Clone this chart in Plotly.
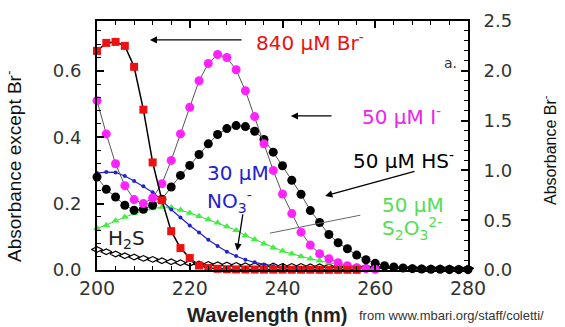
import plotly.graph_objects as go

# ---------------- data ----------------
wl = list(range(200, 282, 2))  # 200..280 nm

wl_br = list(range(200, 258, 2))
br = [2.20, 2.28, 2.29, 2.25, 2.04, 1.61, 1.08, 0.70, 0.39, 0.22, 0.12, 0.045, 0.02, 0.012,
      0.008, 0.006, 0.005, 0.005, 0.004, 0.004, 0.004, 0.003, 0.003, 0.003, 0.002, 0.002,
      0.002, 0.002, 0.002]

wl_i = list(range(200, 262, 2))
iodide = [0.51, 0.41, 0.32, 0.254, 0.212, 0.200, 0.217, 0.26, 0.33, 0.41, 0.49, 0.57, 0.622,
          0.649, 0.640, 0.603, 0.54, 0.462, 0.38, 0.30, 0.229, 0.17, 0.114, 0.075, 0.049,
          0.034, 0.022, 0.013, 0.007, 0.004, 0.002]

hs = [0.28, 0.243, 0.22, 0.195, 0.18, 0.183, 0.195, 0.213, 0.25, 0.285, 0.315, 0.348, 0.38,
      0.408, 0.426, 0.435, 0.432, 0.418, 0.393, 0.355, 0.314, 0.27, 0.228, 0.179, 0.143,
      0.107, 0.082, 0.064, 0.045, 0.031, 0.02, 0.013, 0.009, 0.006, 0.004, 0.003, 0.002,
      0.002, 0.001, 0.001, 0.001]

wl_no3 = list(range(200, 252, 2))
no3 = [0.292, 0.295, 0.294, 0.283, 0.268, 0.252, 0.234, 0.21, 0.182, 0.158, 0.134, 0.113,
       0.091, 0.072, 0.055, 0.042, 0.031, 0.023, 0.016, 0.011, 0.007, 0.005, 0.003, 0.002,
       0.001, 0.001]

wl_s2o3 = list(range(200, 262, 2))
s2o3 = [0.126, 0.135, 0.148, 0.16, 0.17, 0.178, 0.185, 0.19, 0.188, 0.181, 0.172, 0.162,
        0.152, 0.142, 0.131, 0.12, 0.104, 0.092, 0.079, 0.067, 0.057, 0.049, 0.041, 0.034,
        0.028, 0.022, 0.016, 0.011, 0.007, 0.004, 0.002]

h2s = [0.062, 0.055, 0.048, 0.043, 0.039, 0.035, 0.032, 0.028, 0.025, 0.022, 0.02, 0.018,
       0.017, 0.016, 0.015, 0.014, 0.013, 0.013, 0.012, 0.012, 0.011, 0.011, 0.011, 0.01,
       0.01, 0.01, 0.009, 0.009, 0.009, 0.008, 0.008, 0.008, 0.007, 0.007, 0.007, 0.006,
       0.006, 0.006, 0.006, 0.005, 0.005]

x_ticks = [200, 220, 240, 260, 280]

WIDE = "DejaVu Sans, Verdana, sans-serif"
ARIAL = "Liberation Sans, Arial, sans-serif"

W, H = 565, 327
ML, MR, MT, MB = 97, 97, 21, 57

fig = go.Figure()

fig.add_trace(go.Scatter(x=wl, y=h2s, mode="lines+markers", cliponaxis=False,
                         line=dict(color="black", width=1),
                         marker=dict(symbol="diamond-wide", size=8, color="white",
                                     line=dict(color="black", width=1.2))))
fig.add_trace(go.Scatter(x=wl_s2o3, y=s2o3, mode="lines+markers", cliponaxis=False,
                         line=dict(color="#33dd33", width=1),
                         marker=dict(symbol="triangle-up", size=7, color="#44ee44")))
fig.add_trace(go.Scatter(x=wl_no3, y=no3, mode="lines+markers", cliponaxis=False,
                         line=dict(color="#2222cc", width=1.2),
                         marker=dict(symbol="circle", size=4, color="#2222cc")))
fig.add_trace(go.Scatter(x=wl, y=hs, mode="lines+markers", cliponaxis=False,
                         line=dict(color="#555555", width=1),
                         marker=dict(symbol="circle", size=9, color="black")))
fig.add_trace(go.Scatter(x=wl_i, y=iodide, mode="lines+markers", cliponaxis=False,
                         line=dict(color="#555555", width=1),
                         marker=dict(symbol="circle", size=9, color="#ff22ff")))
fig.add_trace(go.Scatter(x=wl_br, y=br, yaxis="y2", mode="lines+markers", cliponaxis=False,
                         line=dict(color="black", width=1.5),
                         marker=dict(symbol="square", size=8, color="#ee1111")))

yfont = dict(family=WIDE, size=18, color="#333333")
xfont = dict(family=WIDE, size=19, color="#333333")

common = dict(ticks="inside", ticklen=7, tickwidth=1.5, tickcolor="black", showline=True,
              linewidth=2, linecolor="black", showgrid=False, zeroline=False, automargin=False)

fig.update_layout(
    width=W, height=H,
    margin=dict(l=ML, r=MR, t=MT, b=MB),
    paper_bgcolor="white", plot_bgcolor="white",
    showlegend=False,
    font=dict(family=WIDE),
    xaxis=dict(range=[200, 280], tickvals=x_ticks, mirror="ticks", tickfont=xfont,
               minor=dict(dtick=4, ticklen=4, ticks="inside", tickcolor="black", tickwidth=1.2),
               **common),
    yaxis=dict(range=[0, 0.75], dtick=0.2, tickformat=".1f", tickfont=yfont,
               ticklabelstandoff=10,
               minor=dict(dtick=0.04, ticklen=4, ticks="inside", tickcolor="black", tickwidth=1.2),
               **common),
    yaxis2=dict(range=[0, 2.5], dtick=0.5, tickformat=".1f", overlaying="y", side="right",
                tickfont=yfont, ticklabelstandoff=10,
                minor=dict(dtick=0.1, ticklen=4, ticks="inside", tickcolor="black", tickwidth=1.2),
                **common),
)

ann = []
def txt(x, y, s, color, size=20, xanchor="left", yanchor="middle", family=WIDE):
    ann.append(dict(x=x, y=y, xref="x", yref="y", text=s, showarrow=False,
                    xanchor=xanchor, yanchor=yanchor, borderpad=0,
                    font=dict(family=family, size=size, color=color)))

def arrow(x0, y0, x1, y1, color="black", head=2, width=1.3):
    ann.append(dict(x=x1, y=y1, ax=x0, ay=y0, xref="x", yref="y", axref="x", ayref="y",
                    text="", showarrow=True, arrowhead=head, arrowsize=1.1,
                    arrowwidth=width, arrowcolor=color))

txt(234.1, 0.687, "840 μM Br<sup>-</sup>", "#ee1111", 20)
arrow(231.5, 0.693, 211.4, 0.693)
txt(277.8, 0.623, "a.", "#333333", 14, xanchor="right")
txt(256.9, 0.464, "50 μM I<sup>-</sup>", "#ee22ee", 20)
arrow(250.9, 0.464, 241.8, 0.464)
txt(255.0, 0.331, "50 μM HS<sup>-</sup>", "black", 20)
arrow(268.8, 0.298, 249.2, 0.223)
txt(223.5, 0.292, "30 μM", "#2222cc", 20)
txt(223.5, 0.205, "NO<sub>3</sub><sup>-</sup>", "#2222cc", 20)
arrow(231.5, 0.172, 230.2, 0.058)
txt(261.3, 0.196, "50 μM", "#55dd55", 20)
txt(261.3, 0.125, "S<sub>2</sub>O<sub>3</sub><sup>2-</sup>", "#55dd55", 20)
arrow(257.1, 0.166, 237.3, 0.111, color="#666666", head=0, width=1)
txt(202.2, 0.093, "H<sub>2</sub>S", "#222222", 20)

pw, ph = W - ML - MR, H - MT - MB
def px2paper(px, py):
    return (px - ML) / pw, (H - MB - py) / ph

def ptxt(px, py, s, size, color="#111111", angle=0, xanchor="center", family=ARIAL):
    x, y = px2paper(px, py)
    ann.append(dict(x=x, y=y, xref="paper", yref="paper", text=s, showarrow=False,
                    textangle=angle, xanchor=xanchor, yanchor="middle", borderpad=0,
                    font=dict(family=family, size=size, color=color)))

ptxt(13, 167, "Absorbance except Br<sup>-</sup>", 19, angle=-90)
ptxt(549, 150, "Absorbance Br<sup>-</sup>", 16, angle=-90)
ptxt(267, 315, "<b>Wavelength (nm)</b>", 20, color="#222222")
ptxt(358, 315, "from www.mbari.org/staff/coletti/", 13, color="#333333", xanchor="left")

fig.update_layout(annotations=ann)

fig.write_html("out.html", config={"displayModeBar": False},
               post_script="document.body.style.margin='0';document.body.style.overflow='hidden';")
